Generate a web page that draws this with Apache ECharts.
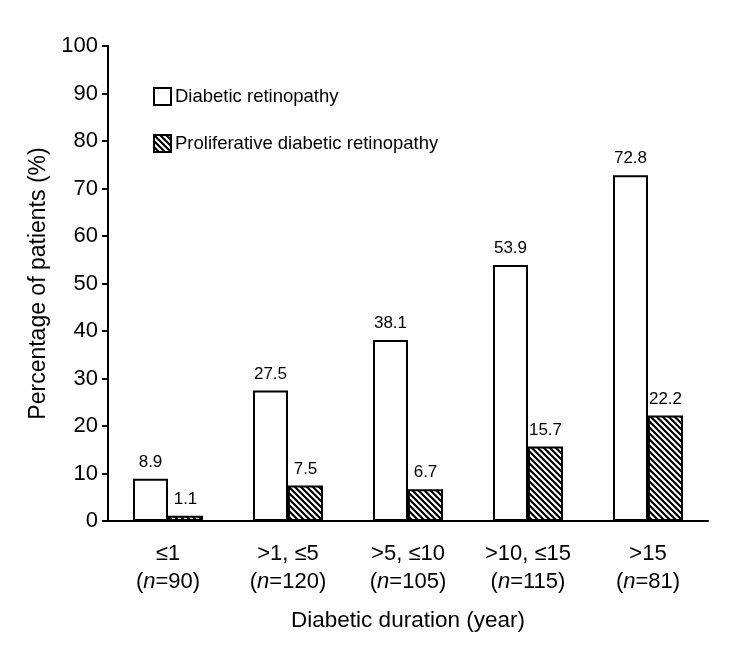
<!DOCTYPE html>
<html>
<head>
<meta charset="utf-8">
<script src="https://cdn.jsdelivr.net/npm/echarts@6/dist/echarts.min.js"></script>
<style>html,body{margin:0;padding:0;background:#fff;}#c{width:748px;height:647px;}</style>
</head>
<body>
<div id="c"></div>
<script>
var categories = ['≤1', '>1, ≤5', '>5, ≤10', '>10, ≤15', '>15'];
var sampleSizes = [90, 120, 105, 115, 81];
var drValues = [8.9, 27.5, 38.1, 53.9, 72.8];
var pdrValues = [1.1, 7.5, 6.7, 15.7, 22.2];
var yTicks = { min: 0, max: 100, interval: 10 };

function hatch() {
  var s = 6;
  var cv = document.createElement('canvas');
  cv.width = s; cv.height = s;
  var g = cv.getContext('2d');
  g.fillStyle = '#fff'; g.fillRect(0, 0, s, s);
  g.strokeStyle = '#000'; g.lineWidth = 2.2;
  g.beginPath();
  g.moveTo(-s, 0); g.lineTo(s, 2 * s);
  g.moveTo(0, 0); g.lineTo(s, s);
  g.moveTo(0, -s); g.lineTo(2 * s, s);
  g.stroke();
  return cv;
}
var pat = { image: hatch(), repeat: 'repeat' };

var chart = echarts.init(document.getElementById('c'));
var font = 'Liberation Sans, Arial, sans-serif';
chart.setOption({
  animation: false,
  backgroundColor: '#fff',
  textStyle: { fontFamily: font, color: '#000' },
  legend: {
    orient: 'vertical', left: 148, top: 82, itemWidth: 17, itemHeight: 17, itemGap: 28,
    icon: 'rect',
    textStyle: { fontSize: 18.5, color: '#000', fontFamily: font, padding: [0, 0, 0, -1] },
    data: ['Diabetic retinopathy', 'Proliferative diabetic retinopathy']
  },
  grid: { left: 108, right: 40, top: 46, bottom: 126 },
  xAxis: {
    type: 'category',
    data: categories,
    name: 'Diabetic duration (year)', nameLocation: 'middle', nameGap: 88,
    nameTextStyle: { fontSize: 22.5, color: '#000', fontFamily: font },
    axisLine: { lineStyle: { color: '#000', width: 2 } },
    axisTick: { length: 6, lineStyle: { color: '#000', width: 2 } },
    axisLabel: {
      interval: 0, margin: 19, fontSize: 22, color: '#000', lineHeight: 28, fontFamily: font,
      formatter: function (v, i) { return v + '\n({i|n}=' + sampleSizes[i] + ')'; },
      rich: { i: { fontStyle: 'italic', fontSize: 22, color: '#000', fontFamily: font, lineHeight: 28 } }
    }
  },
  yAxis: {
    type: 'value', min: yTicks.min, max: yTicks.max, interval: yTicks.interval,
    name: 'Percentage of patients (%)', nameLocation: 'middle', nameGap: 57,
    nameTextStyle: { fontSize: 23, color: '#000', fontFamily: font },
    axisLine: { show: true, lineStyle: { color: '#000', width: 2 } },
    axisTick: { show: true, length: 6, lineStyle: { color: '#000', width: 2 } },
    axisLabel: { margin: 10, fontSize: 22, color: '#000', fontFamily: font },
    splitLine: { show: false }
  },
  series: [
    {
      name: 'Diabetic retinopathy', type: 'bar', data: drValues, barWidth: 35, barGap: '0%',
      itemStyle: { color: '#fff', borderColor: '#000', borderWidth: 2 },
      label: { show: true, position: 'top', distance: 8, fontSize: 17, color: '#000', fontFamily: font }
    },
    {
      name: 'Proliferative diabetic retinopathy', type: 'bar', data: pdrValues, barWidth: 35,
      itemStyle: { color: pat, borderColor: '#000', borderWidth: 2 },
      label: { show: true, position: 'top', distance: 8, fontSize: 17, color: '#000', fontFamily: font }
    }
  ]
});
</script>
</body>
</html>
